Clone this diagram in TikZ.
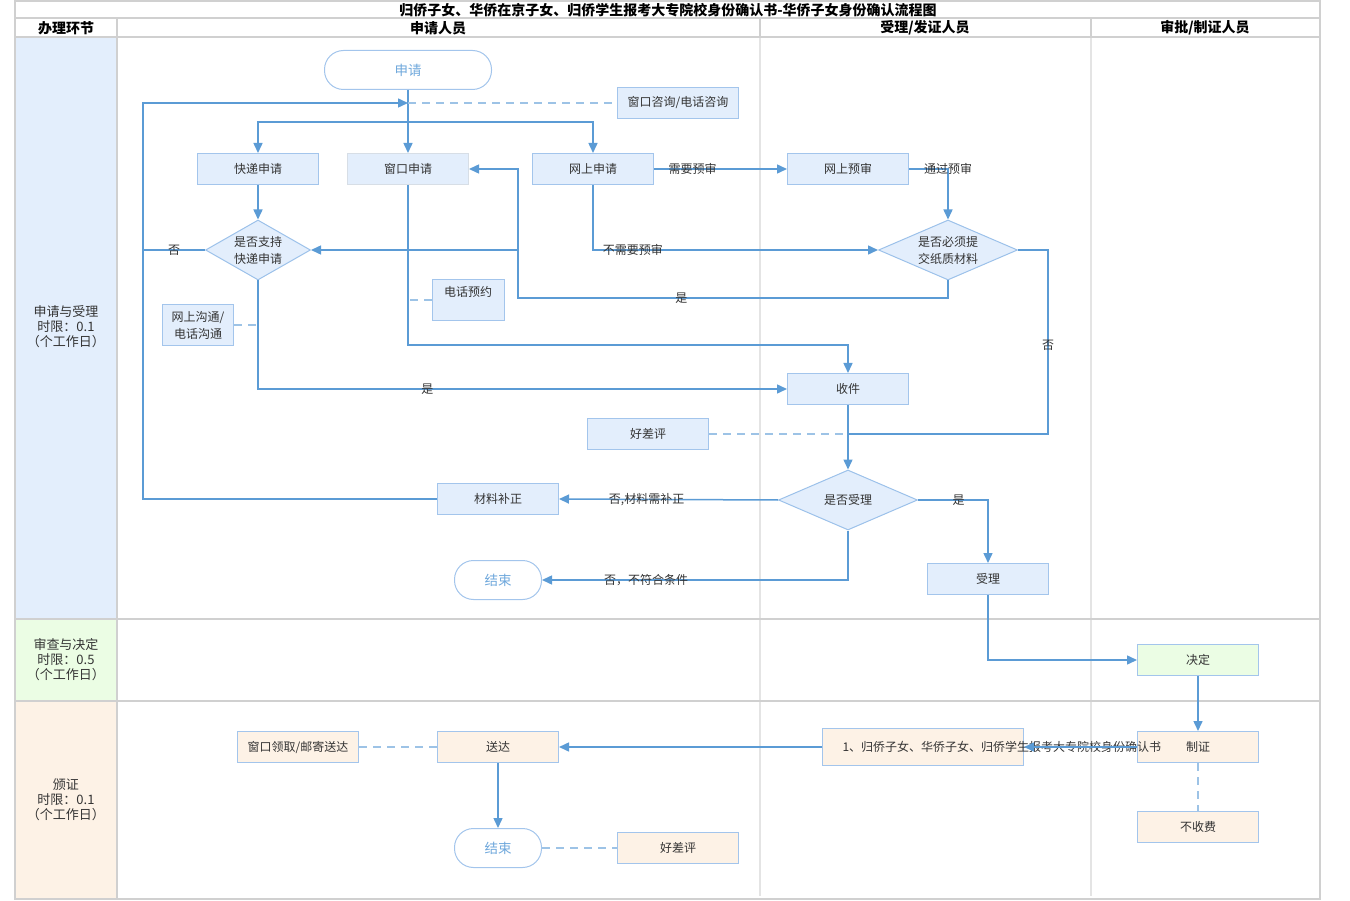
\documentclass[tikz,border=0pt]{standalone}
\usepackage{fontspec}
\setmainfont{Noto Sans CJK SC}
\usetikzlibrary{shapes.geometric,arrows.meta}
\definecolor{ln}{HTML}{5B9BD5}
\definecolor{dl}{HTML}{9DC3E6}
\definecolor{bf}{HTML}{E3EEFC}
\definecolor{bd}{HTML}{A3C5EC}
\definecolor{of}{HTML}{FDF2E6}
\definecolor{gf}{HTML}{EBFDE4}
\definecolor{gr}{HTML}{D0D0D0}
\definecolor{gl}{HTML}{E4E4E4}
\definecolor{tx}{HTML}{333333}
\definecolor{st}{HTML}{6FA8DC}
\newcommand\nodefont{\fontsize{12pt}{17pt}\selectfont}
\begin{document}
\begin{tikzpicture}[x=1pt,y=-1pt,
  box/.style={draw=bd, fill=bf, line width=1pt, minimum width=121pt, minimum height=31pt, inner sep=2pt, font=\nodefont, text=tx, align=center},
  obox/.style={box, fill=of},
  gbox/.style={box, fill=gf},
  term/.style={draw=bd, fill=white, line width=1pt, rounded corners=19pt, minimum height=39pt, inner sep=2pt, font=\fontsize{13.5pt}{15pt}\selectfont, text=st},
  dia/.style={diamond, draw=bd!90!ln, fill=bf, line width=1pt, inner sep=0pt, font=\nodefont, text=tx, align=center, minimum width=139pt, minimum height=60pt, shape aspect=2.3},
  conn/.style={draw=ln, line width=1.5pt, -{Triangle[length=10pt,width=9pt]}},
  plain/.style={draw=ln, line width=1.5pt},
  dsh/.style={draw=dl, line width=1.5pt, dash pattern=on 8pt off 6pt},
  lab/.style={font=\nodefont, text=tx, inner sep=0pt},
  lane/.style={draw=gr, line width=2pt},
  lanel/.style={draw=gl, line width=2pt},
  hd/.style={font=\fontsize{14pt}{15pt}\selectfont\bfseries, text=black, inner sep=0pt},
  side/.style={font=\fontsize{13pt}{15pt}\selectfont, text=tx, align=center, inner sep=0pt}]
\useasboundingbox (0,0) rectangle (1350,901);
% lanes
\fill[bf] (15,37) rectangle (117,619);
\fill[gf] (15,619) rectangle (117,701);
\fill[of] (15,701) rectangle (117,899);
\draw[lanel] (760,37) -- (760,896);
\draw[lanel] (1091,37) -- (1091,896);
\draw[lane] (760,18) -- (760,37);
\draw[lane] (1091,18) -- (1091,37);
\draw[lane] (117,18) -- (117,899);
\draw[lane] (15,18) -- (1320,18);
\draw[lane] (15,37) -- (1320,37);
\draw[lane] (15,619) -- (1320,619);
\draw[lane] (15,701) -- (1320,701);
\draw[lane] (15,1) rectangle (1320,899);
\node[hd, font=\fontsize{14pt}{15pt}\selectfont\bfseries] (title) at (668,10) {归侨子女、华侨在京子女、归侨学生报考大专院校身份确认书-华侨子女身份确认流程图};
\node[hd] (h0) at (66,28) {办理环节};
\node[hd] (h1) at (438,28) {申请人员};
\node[hd] (h2) at (925,28) {受理/发证人员};
\node[hd] (h3) at (1205,28) {审批/制证人员};
\node[side] (s1) at (66,327) {申请与受理\\时限：0.1\\（个工作日）};
\node[side] (s2) at (66,660) {审查与决定\\时限：0.5\\（个工作日）};
\node[side] (s3) at (66,800) {颁证\\时限：0.1\\（个工作日）};
% nodes
\node[term, minimum width=167pt] (sq) at (408,70) {申请};
\node[box] (zx) at (678,103) {窗口咨询/电话咨询};
\node[box] (kd) at (258,169) {快递申请};
\node[box, draw=gl!80!bd] (ck) at (408,169) {窗口申请};
\node[box] (ws) at (593,169) {网上申请};
\node[box] (ys) at (848,169) {网上预审};
\node[dia, minimum width=105pt, shape aspect=1.75] (d1) at (258,250) {是否支持\\快递申请};
\node[dia] (d2) at (948,250) {是否必须提\\交纸质材料};
\node[box, minimum width=72pt, minimum height=41pt, text depth=17pt] (dh) at (468,300) {电话预约};
\node[box, minimum width=71pt, minimum height=41pt, text width=62pt] (wg) at (198,325) {网上沟通/\\电话沟通};
\node[box] (sj) at (848,389) {收件};
\node[box] (hp) at (648,434) {好差评};
\node[dia] (d3) at (848,500) {是否受理};
\node[box] (bz) at (498,499) {材料补正};
\node[term, minimum width=87pt] (js1) at (498,580) {结束};
\node[box] (sl) at (988,579) {受理};
\node[gbox] (jd) at (1198,660) {决定};
\node[obox] (zz) at (1198,747) {制证};
\node[obox] (bs) at (1198,827) {不收费};
\node[obox, minimum width=201pt, minimum height=37pt, inner xsep=20pt] (bk) at (923,747) {\makebox[161pt][l]{1、归侨子女、华侨子女、归侨学生报考大专院校身份确认书}};
\node[obox] (sd) at (498,747) {送达};
\node[obox] (lq) at (298,747) {窗口领取/邮寄送达};
\node[term, minimum width=87pt] (js2) at (498,848) {结束};
\node[obox] (hp2) at (678,848) {好差评};
% coordinates
\coordinate (j0) at (408,103);
\coordinate (j1) at (408,122);
\coordinate (lp) at (143,103);
\coordinate (j2) at (518,298);
\coordinate (j3) at (518,250);
\coordinate (j4) at (848,434);
\coordinate (j5) at (1048,434);
% connectors
\draw[conn] (sq.south) -- (ck.north);
\draw[conn] (j1) -| (kd.north);
\draw[conn] (j1) -| (ws.north);
\draw[conn] (bz.west) -| (lp) -- (j0);
\draw[dsh] (j0) -- (zx.west);
\draw[plain] (d1.west) -- (d1.west -| lp) node[lab, midway] {否};
\draw[conn] (kd.south) -- (d1.north);
\draw[conn] (d1.south) |- (sj.west) node[lab, pos=0.66] {是};
\draw[dsh] (wg.east) -- (wg.east -| d1.south);
\draw[conn] (ck.south) -- ++(0,160) -| (sj.north);
\draw[dsh] (dh.west) -- (dh.west -| ck.south);
\draw[conn] (ws.east) -- (ys.west) node[lab, pos=0.29] {需要预审};
\draw[conn] (ws.south) |- (d2.west) node[lab, pos=0.57] {不需要预审};
\draw[conn] (ys.east) -| (d2.north) node[lab, pos=0.5] {通过预审};
\draw[conn] (d2.south) |- (j2) node[lab, pos=0.81] {是} -- (j3) |- (ck.east);
\draw[conn] (j3) -- (d1.east);
\draw[plain] (d2.east) -| (j5) node[lab, pos=0.76] {否} -- (j4);
\draw[dsh] (hp.east) -- (j4);
\draw[conn] (sj.south) -- (d3.north);
\draw[conn] (d3.west) -- (bz.east) node[lab, pos=0.6] {否,材料需补正};
\draw[conn] (d3.south) |- (js1.east) node[lab, pos=0.83] {否，不符合条件};
\draw[conn] (d3.east) -| (sl.north) node[lab, pos=0.29] {是};
\draw[conn] (sl.south) |- (jd.west);
\draw[conn] (jd.south) -- (zz.north);
\draw[conn] (zz.west) -- (bk.east);
\draw[conn] (bk.west) -- (sd.east);
\draw[dsh] (lq.east) -- (sd.west);
\draw[conn] (sd.south) -- (js2.north);
\draw[dsh] (js2.east) -- (hp2.west);
\draw[dsh] (zz.south) -- (bs.north);
\end{tikzpicture}
\end{document}
